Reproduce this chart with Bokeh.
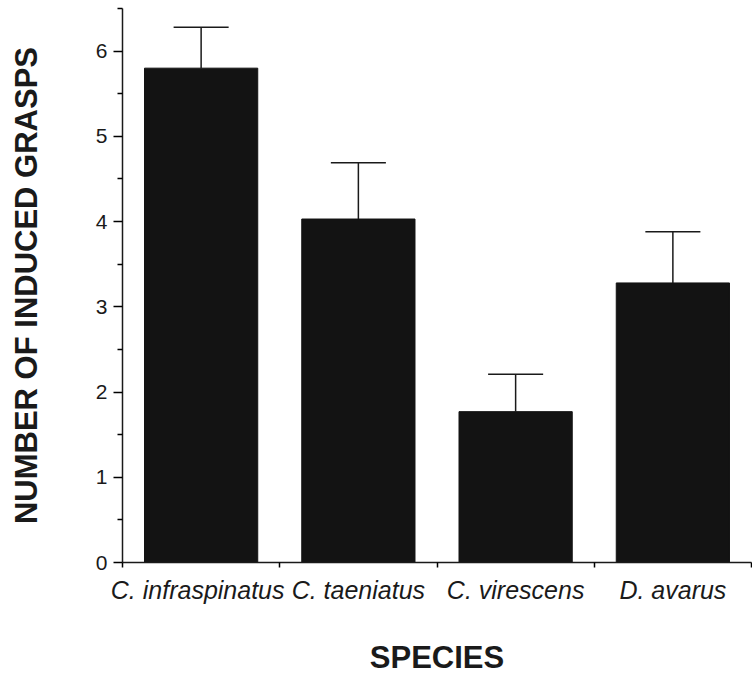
from bokeh.plotting import figure
from bokeh.models import FixedTicker, Range1d, ColumnDataSource
from bokeh.embed import file_html
from bokeh.resources import INLINE

species = ["C.  infraspinatus", "C. taeniatus", "C. virescens", "D. avarus"]
means = [5.80, 4.03, 1.77, 3.28]
sems = [0.48, 0.66, 0.44, 0.60]
y_ticks = [0, 1, 2, 3, 4, 5, 6]
y_minor = [0.5, 1.5, 2.5, 3.5, 4.5, 5.5, 6.5]

xc = [i + 0.5 for i in range(len(species))]
tops = [m + s for m, s in zip(means, sems)]
src = ColumnDataSource(dict(x=xc, top=means, etop=tops,
                            cl=[x - 0.175 for x in xc], cr=[x + 0.175 for x in xc]))

p = figure(width=752, height=677, output_backend="svg", toolbar_location=None,
           x_range=Range1d(0, len(species)), y_range=Range1d(0, 6.5),
           min_border_left=122, min_border_right=1, min_border_top=8, min_border_bottom=113)
p.outline_line_color = None
p.grid.visible = False
p.background_fill_color = "white"

p.vbar(x="x", top="top", bottom=0, width=0.72, source=src,
       fill_color="#131313", line_color="#131313")
p.segment(x0="x", y0="top", x1="x", y1="etop", source=src, line_color="#1a1a1a", line_width=1.5)
p.segment(x0="cl", y0="etop", x1="cr", y1="etop", source=src, line_color="#1a1a1a", line_width=1.5)

font = "Liberation Sans"

# y axis
ya = p.yaxis[0]
ya.ticker = FixedTicker(ticks=y_ticks, minor_ticks=y_minor)
ya.axis_line_color = "#1a1a1a"
ya.axis_line_width = 1.5
ya.major_tick_line_width = 1.5
ya.minor_tick_line_width = 1.5
ya.major_tick_out = 9
ya.major_tick_in = 0
ya.minor_tick_out = 5
ya.minor_tick_in = 0
ya.major_label_text_font = font
ya.major_label_text_font_size = "21px"
ya.major_label_text_color = "#1a1a1a"
ya.major_label_standoff = 6
ya.axis_label = "NUMBER OF INDUCED GRASPS"
ya.axis_label_text_font = font
ya.axis_label_text_font_style = "bold"
ya.axis_label_text_font_size = "31px"
ya.axis_label_text_color = "#1a1a1a"
ya.axis_label_standoff = 49

# x axis
xa = p.xaxis[0]
xa.ticker = FixedTicker(ticks=xc, minor_ticks=list(range(len(species) + 1)))
xa.major_label_overrides = {x: s for x, s in zip(xc, species)}
xa.axis_line_color = "#1a1a1a"
xa.axis_line_width = 1.5
xa.major_tick_line_color = None
xa.major_tick_out = 0
xa.major_tick_in = 0
xa.minor_tick_line_width = 1.5
xa.minor_tick_out = 5
xa.minor_tick_in = 0
xa.major_label_text_font = font
xa.major_label_text_font_style = "italic"
xa.major_label_text_font_size = "25px"
xa.major_label_text_color = "#1a1a1a"
xa.major_label_standoff = 8
xa.axis_label = "SPECIES"
xa.axis_label_text_font = font
xa.axis_label_text_font_style = "bold"
xa.axis_label_text_font_size = "31px"
xa.axis_label_text_color = "#1a1a1a"
xa.axis_label_standoff = 33

open("out.html", "w").write(file_html(p, INLINE))
